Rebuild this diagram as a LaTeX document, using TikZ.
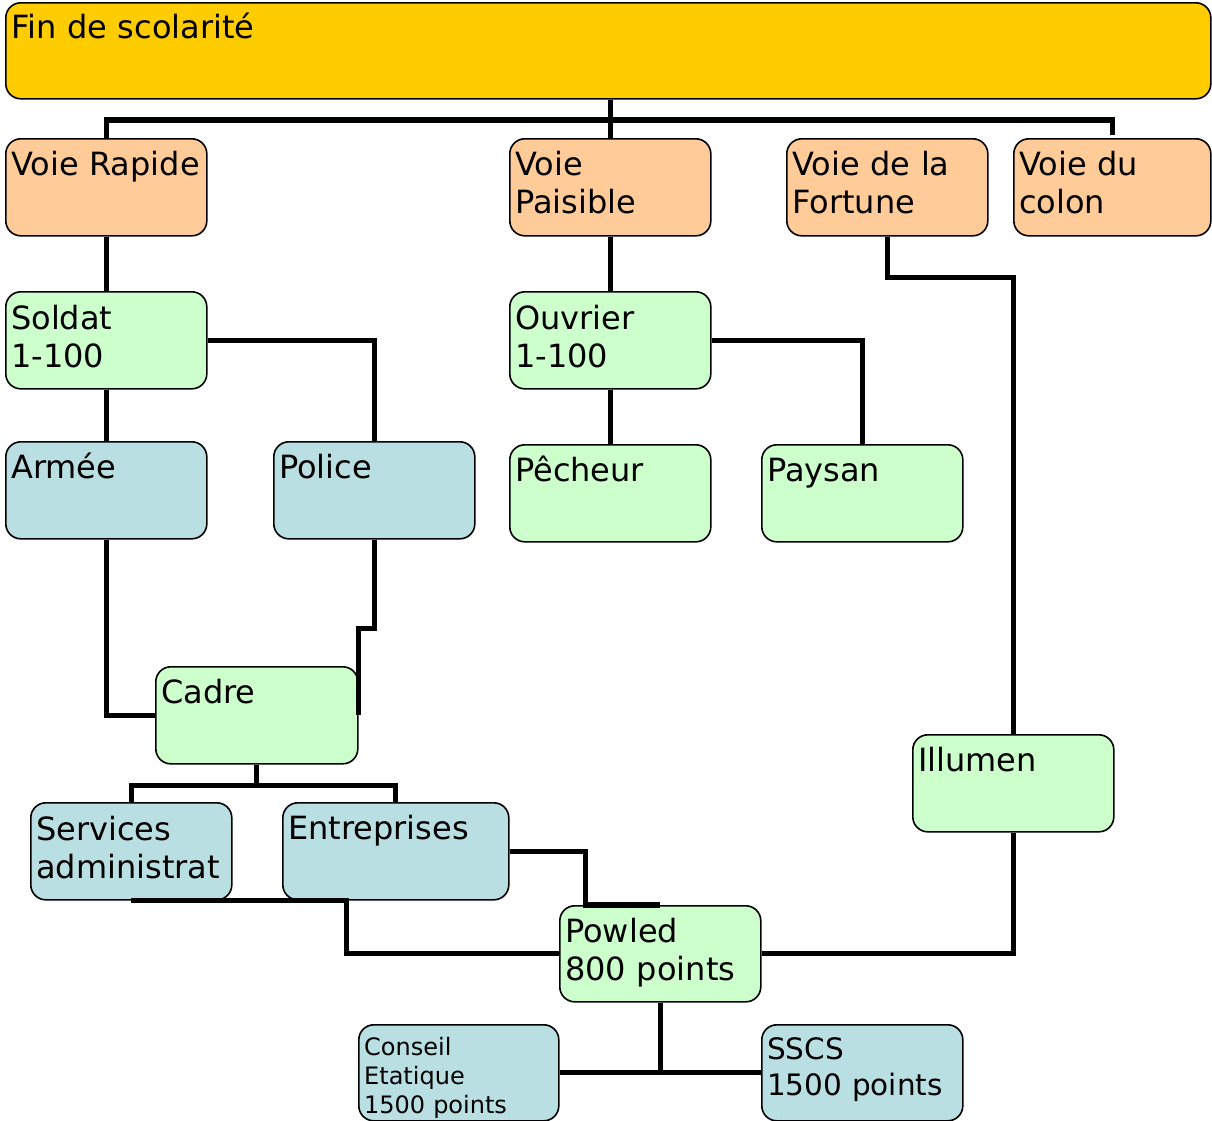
\documentclass[tikz,border=0pt]{standalone}
\usepackage{fontspec}
\setmainfont{DejaVu Sans}
\usetikzlibrary{calc}
\definecolor{cfin}{HTML}{FFCC00}
\definecolor{cvoie}{HTML}{FFCC99}
\definecolor{cgreen}{HTML}{CCFFCC}
\definecolor{cblue}{HTML}{B9DFE3}
\tikzset{
 boxs/.style={draw=black, line width=1.6pt, rounded corners=15pt, anchor=north west, inner sep=0pt, minimum width=201pt, minimum height=97pt},
 txt/.style={anchor=base west, inner sep=0pt, align=left, text width=300pt, font=\fontsize{32}{38.5}\selectfont},
 conn/.style={line width=5.2pt, draw=black},
}
\begin{document}
\begin{tikzpicture}[x=1pt,y=-1pt]
\useasboundingbox (0,0) rectangle (1212,1120);
% boxes
\node[boxs, fill=cfin, minimum width=1205pt, minimum height=96pt] (fin) at (5,2) {};
\node[boxs, fill=cvoie] (rapide) at (5,138) {};
\node[boxs, fill=cvoie] (paisible) at (509,138) {};
\node[boxs, fill=cvoie] (fortune) at (786,138) {};
\node[boxs, fill=cvoie, minimum width=197pt] (colon) at (1013,138) {};
\node[boxs, fill=cgreen] (soldat) at (5,291) {};
\node[boxs, fill=cgreen] (ouvrier) at (509,291) {};
\node[boxs, fill=cblue] (armee) at (5,441) {};
\node[boxs, fill=cblue] (police) at (273,441) {};
\node[boxs, fill=cgreen] (pecheur) at (509,444) {};
\node[boxs, fill=cgreen] (paysan) at (761,444) {};
\node[boxs, fill=cgreen, minimum width=202pt] (cadre) at (155,666) {};
\node[boxs, fill=cgreen] (illumen) at (912,734) {};
\node[boxs, fill=cblue] (services) at (30,802) {};
\node[boxs, fill=cblue, minimum width=226pt] (entreprises) at (282,802) {};
\node[boxs, fill=cgreen, minimum height=96pt] (powled) at (559,905) {};
\node[boxs, fill=cblue, minimum width=200pt, minimum height=96pt] (conseil) at (358,1024) {};
\node[boxs, fill=cblue, minimum height=96pt] (sscs) at (761,1024) {};
% texts
\node[txt] (finT) at ($(fin.north west)+(6,36)$) {Fin de scolarité};
\node[txt] (rapideT) at ($(rapide.north west)+(6,37)$) {Voie Rapide};
\node[txt] (paisibleT) at ($(paisible.north west)+(6,37)$) {Voie\\Paisible};
\node[txt] (fortuneT) at ($(fortune.north west)+(6,37)$) {Voie de la\\Fortune};
\node[txt] (colonT) at ($(colon.north west)+(6,37)$) {Voie du\\colon};
\node[txt] (soldatT) at ($(soldat.north west)+(6,38)$) {Soldat\\1-100};
\node[txt] (ouvrierT) at ($(ouvrier.north west)+(6,38)$) {Ouvrier\\1-100};
\node[txt] (armeeT) at ($(armee.north west)+(6,37)$) {Armée};
\node[txt] (policeT) at ($(police.north west)+(6,37)$) {Police};
\node[txt] (pecheurT) at ($(pecheur.north west)+(6,37)$) {Pêcheur};
\node[txt] (paysanT) at ($(paysan.north west)+(6,37)$) {Paysan};
\node[txt] (cadreT) at ($(cadre.north west)+(6,37)$) {Cadre};
\node[txt] (illumenT) at ($(illumen.north west)+(6,37)$) {Illumen};
\node[txt] (servicesT) at ($(services.north west)+(6,38)$) {Services\\administrat};
\node[txt] (entreprisesT) at ($(entreprises.north west)+(6,37)$) {Entreprises};
\node[txt] (powledT) at ($(powled.north west)+(6,37)$) {Powled\\800 points};
\node[txt, font=\fontsize{24}{29}\selectfont] (conseilT) at ($(conseil.north west)+(6,31)$) {Conseil\\Etatique\\1500 points};
\node[txt, font=\fontsize{29.5}{36}\selectfont] (sscsT) at ($(sscs.north west)+(6,35)$) {SSCS\\1500 points};
% connectors
\coordinate (bus) at (609.5,120);
\draw[conn] (fin.south -| paisible.north) -- (paisible.north);
\draw[conn] (rapide.north) |- (bus) -| ([yshift=3pt]colon.north);
\draw[conn] (rapide.south) -- (soldat.north);
\draw[conn] (soldat.south) -- (armee.north);
\draw[conn] (soldat.east) -| (police.north);
\draw[conn] (paisible.south) -- (ouvrier.north);
\draw[conn] (ouvrier.south) -- (pecheur.north);
\draw[conn] (ouvrier.east) -| (paysan.north);
\draw[conn] (fortune.south) -- ++(0,41) -| (illumen.north);
\draw[conn] (armee.south) |- (cadre.west);
\draw[conn] (police.south) -- ++(0,89) -| (cadre.east);
\draw[conn] (cadre.south) -- ++(0,21) coordinate (cb);
\draw[conn] (services.north) |- (cb) -| (entreprises.north);
\draw[conn] (entreprises.east) -- ++(76,0) |- (powled.north);
\draw[conn] (services.south) -- ++(215,0) |- (powled.west);
\draw[conn] (illumen.south) |- (powled.east);
\draw[conn] (powled.south) -- (powled.south |- conseil.east);
\draw[conn] (conseil.east) -- (sscs.west);
\end{tikzpicture}
\end{document}
